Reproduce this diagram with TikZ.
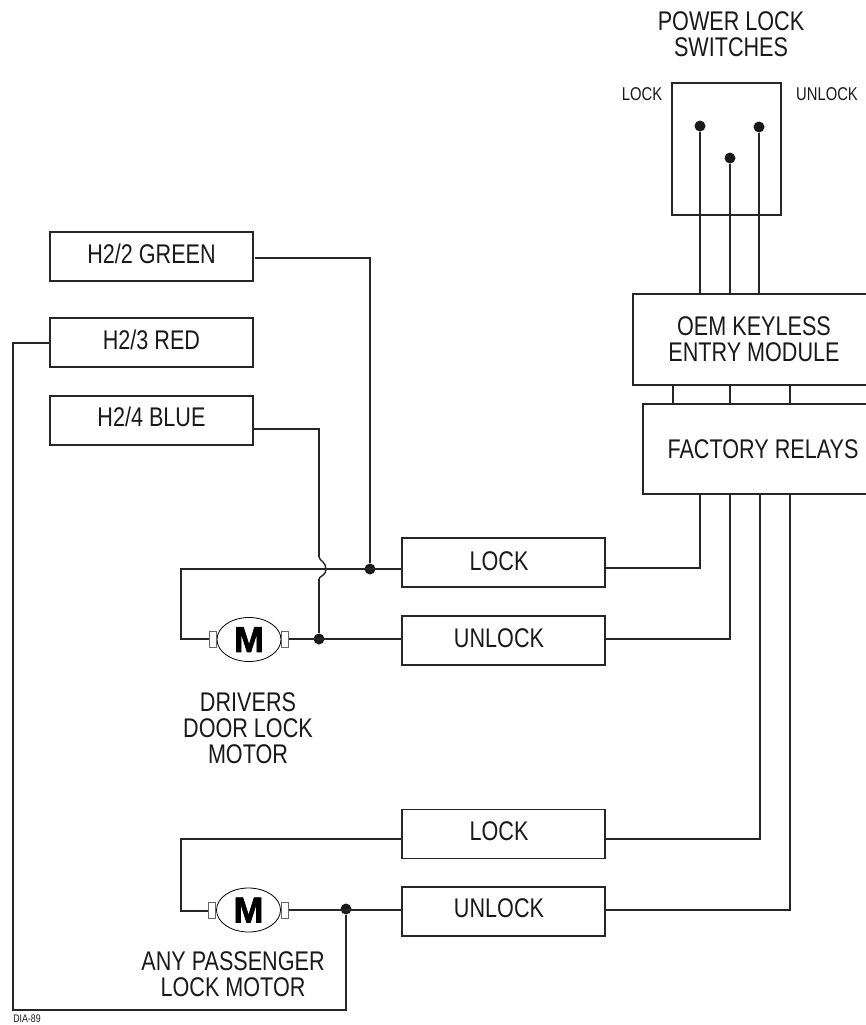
\documentclass[tikz,border=0pt]{standalone}
\usepackage{fontspec}
\setmainfont[FakeStretch=0.8]{Liberation Sans}
\newfontfamily\motorfont[FakeBold=2]{Liberation Sans Bold}
\usetikzlibrary{shapes.geometric}
\tikzset{
    wire/.style={line width=1.4pt, black!85},
    box/.style={draw, line width=1.2pt, black!85, inner sep=0pt},
    relaybox/.style={box, minimum width=203pt, minimum height=49pt},
    dot/.style={circle, fill=black!90, inner sep=0pt, minimum size=11pt},
    tag/.style={text=black!90, font=\fontsize{27}{26}\selectfont, align=center, inner sep=0pt},
    smalltag/.style={tag, font=\fontsize{18.5}{19}\selectfont},
    motor/.style={draw, ellipse, line width=0.8pt, fill=white, minimum width=64pt, minimum height=44pt, inner sep=0pt, font=\fontsize{36}{36}\motorfont},
    term/.style={draw, line width=0.8pt, black!60, fill=white, minimum width=7pt, minimum height=16pt, inner sep=0pt},
}
\begin{document}
\begin{tikzpicture}[x=1pt, y=-1pt]
    \useasboundingbox (0,0) rectangle (866,1025);

    % switches
    \node[tag] (title) at (731,34) {POWER LOCK\\SWITCHES};
    \node[box, minimum width=109pt, minimum height=132pt] (switch) at (726.5,149) {};
    \node[smalltag] (swlock) at (642,94) {LOCK};
    \node[smalltag] (swunlock) at (827,94) {UNLOCK};
    \node[dot] (swa) at (700,126) {};
    \node[dot] (swb) at (730,158) {};
    \node[dot] (swc) at (759,127) {};

    % modules, open at the page edge
    \node[box, minimum width=247pt, minimum height=91pt] (oem) at (756.5,339.5) {};
    \node[tag] (oemtext) at (754,339) {OEM KEYLESS\\ENTRY MODULE};
    \node[box, minimum width=237pt, minimum height=90pt] (relays) at (761.5,449) {};
    \node[tag] (relaytext) at (763,449) {FACTORY RELAYS};

    \draw[wire] (swa) -- (swa |- oem.north);
    \draw[wire] (swb) -- (swb |- oem.north);
    \draw[wire] (swc) -- (swc |- oem.north);
    \coordinate (linka) at (673,385);
    \coordinate (linkb) at (730,385);
    \coordinate (linkc) at (790,385);
    \draw[wire] (linka) -- (linka |- relays.north);
    \draw[wire] (linkb) -- (linkb |- relays.north);
    \draw[wire] (linkc) -- (linkc |- relays.north);

    % harness
    \node[relaybox] (green) at (151.5,256.5) {};
    \node[relaybox] (red) at (151.5,342.5) {};
    \node[relaybox] (blue) at (151.5,420.5) {};
    \node[tag] (greentext) at (151.5,254) {H2/2 GREEN};
    \node[tag] (redtext) at (151.5,340) {H2/3 RED};
    \node[tag] (bluetext) at (151.5,417) {H2/4 BLUE};

    % relays
    \node[relaybox] (locka) at (503.5,562.5) {};
    \node[relaybox] (unlocka) at (503.5,640.5) {};
    \node[relaybox] (lockb) at (503.5,834) {};
    \node[relaybox] (unlockb) at (503.5,911.5) {};
    \node[tag] (lockatext) at (499,561) {LOCK};
    \node[tag] (unlockatext) at (499,638) {UNLOCK};
    \node[tag] (lockbtext) at (499,831) {LOCK};
    \node[tag] (unlockbtext) at (499,908) {UNLOCK};

    % drivers motor
    \node[motor] (motora) at (249,639.5) {M};
    \node[term, anchor=east] (motoral) at (motora.west) {};
    \node[term, anchor=west] (motorar) at (motora.east) {};
    \node[tag] (motoratext) at (248,728) {DRIVERS\\DOOR LOCK\\MOTOR};
    \node[dot] (greendot) at (370,569) {};
    \node[dot] (bluedot) at (319,639) {};
    \coordinate (loopa) at (181,569);
    \coordinate (greenstart) at (255,258);
    \coordinate (hoptop) at (319,557);
    \coordinate (hopbot) at (319,579);

    \draw[wire] (greenstart) -| (greendot);
    \draw[wire] (locka.west |- loopa) -- (loopa) |- (motoral.west |- bluedot);
    \draw[wire] (motorar.east |- bluedot) -- (unlocka.west |- bluedot);
    \draw[wire] (blue.east |- 0,429) -| (hoptop);
    \draw[wire] (hoptop) .. controls (319,560) and (326,562) .. (326,569) .. controls (326,576) and (319,576) .. (hopbot);
    \draw[wire] (hopbot) -- (bluedot);

    % passenger motor
    \node[motor] (motorb) at (248.5,910) {M};
    \node[term, anchor=east] (motorbl) at (motorb.west) {};
    \node[term, anchor=west] (motorbr) at (motorb.east) {};
    \node[tag] (motorbtext) at (233,974) {ANY PASSENGER\\LOCK MOTOR};
    \node[dot] (reddot) at (346,909) {};
    \coordinate (loopb) at (181,839);
    \coordinate (redleft) at (13,343);
    \coordinate (redbot) at (13,1010);

    \draw[wire] (lockb.west |- loopb) -- (loopb) |- (motorbl.west |- 0,911);
    \draw[wire] (motorbr.east |- 0,910) -- (unlockb.west |- 0,910);
    \draw[wire] (red.west |- redleft) -- (redleft) -- (redbot) -| (reddot);

    % relay outputs
    \coordinate (outa) at (700,568);
    \coordinate (outb) at (730,639);
    \coordinate (outc) at (760,839);
    \coordinate (outd) at (790,910);
    \draw[wire] (locka.east |- outa) -- (outa) -- (outa |- relays.south);
    \draw[wire] (unlocka.east |- outb) -- (outb) -- (outb |- relays.south);
    \draw[wire] (lockb.east |- outc) -- (outc) -- (outc |- relays.south);
    \draw[wire] (unlockb.east |- outd) -- (outd) -- (outd |- relays.south);

    \node[tag, font=\fontsize{11}{11}\selectfont] (dia) at (27,1019) {DIA-89};
\end{tikzpicture}
\end{document}
